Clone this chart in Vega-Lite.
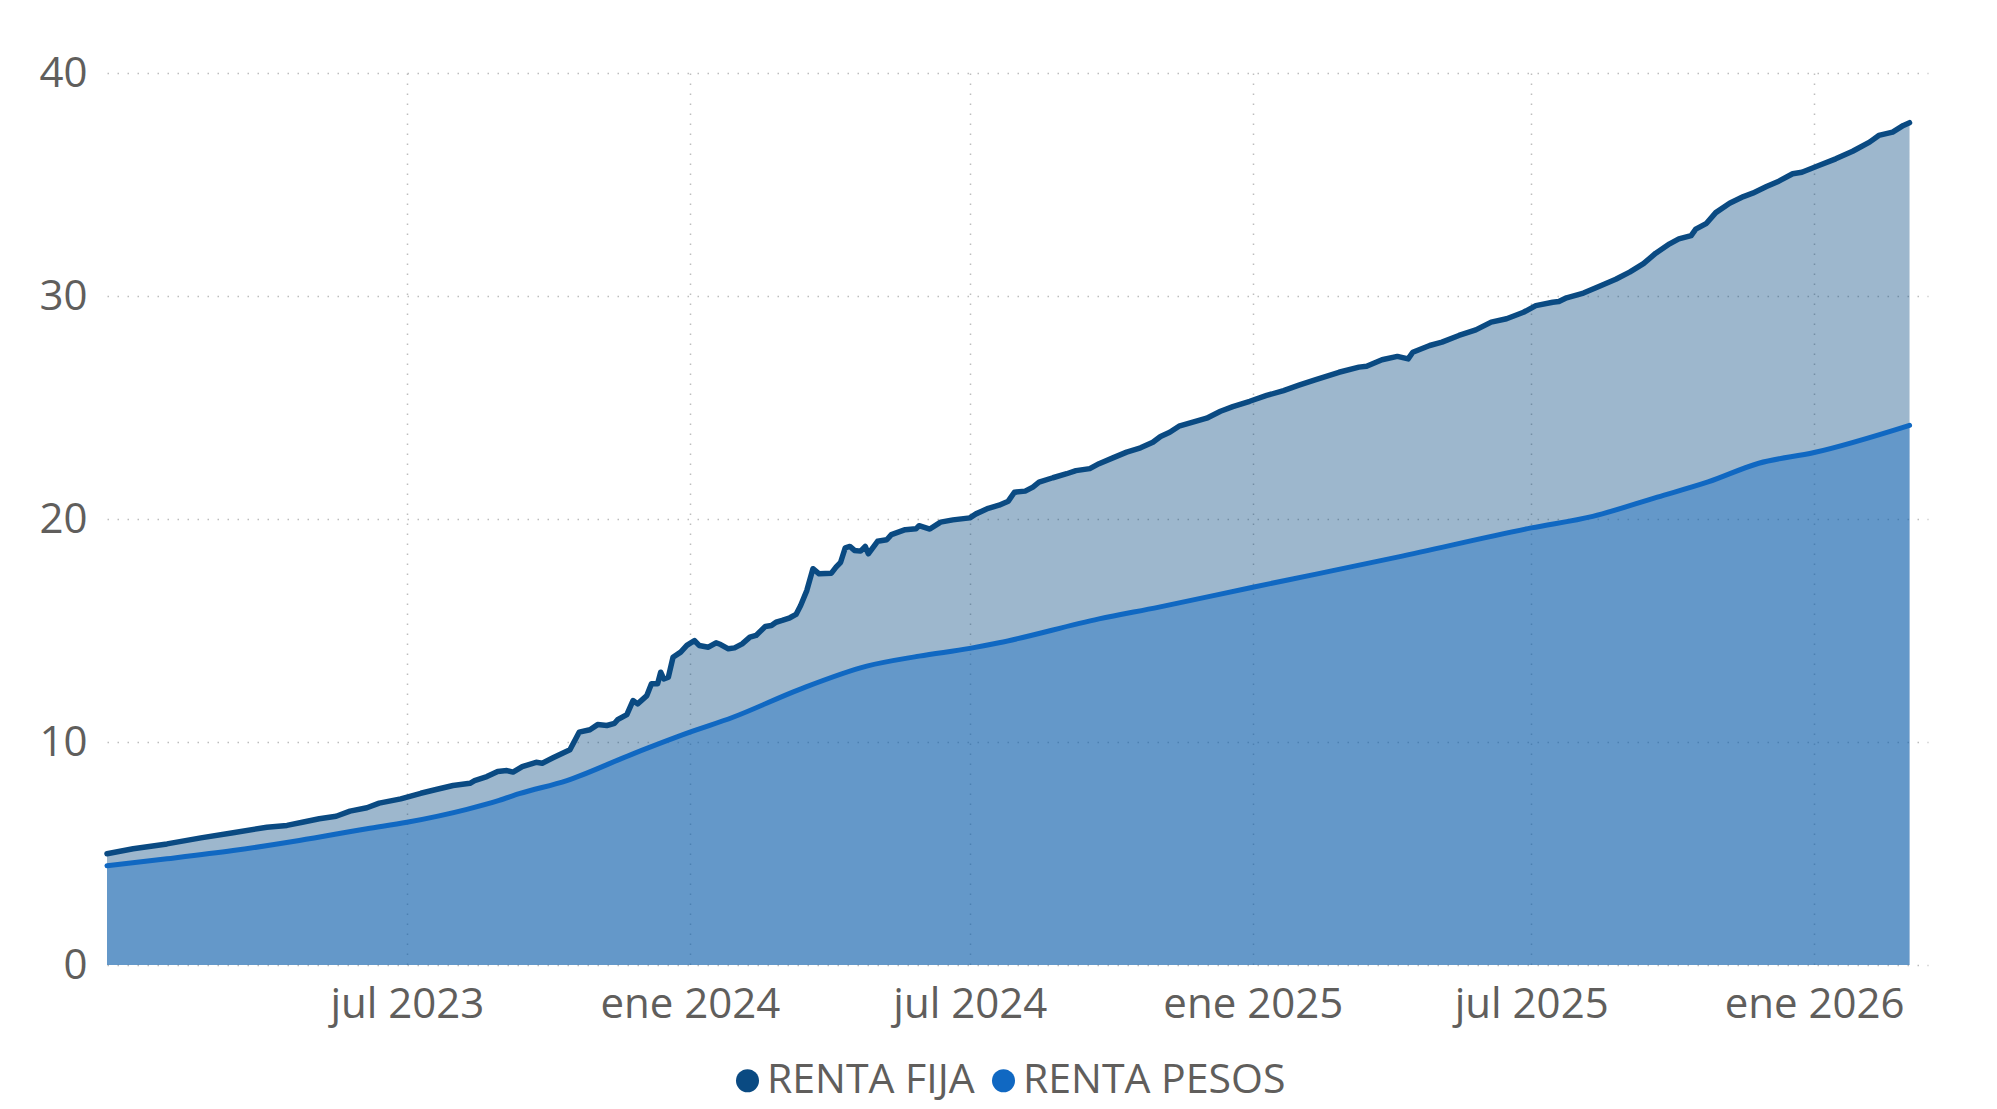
{
  "$schema": "https://vega.github.io/schema/vega-lite/v6.json",
  "width": 1821,
  "height": 892,
  "autosize": "none",
  "padding": {"left": 107, "top": 73, "right": 69, "bottom": 144},
  "background": "white",
  "config": {
    "view": {"stroke": null},
    "font": "Open Sans",
    "axis": {
      "labelFont": "Open Sans",
      "labelFontSize": 42,
      "labelColor": "#605E5C",
      "domain": false,
      "ticks": false,
      "tickSize": 0,
      "grid": true,
      "gridColor": "#BDBDBD",
      "gridWidth": 1.5,
      "gridDash": [1.5, 8.5],
      "title": null
    },
    "legend": {
      "labelFont": "Open Sans",
      "labelFontSize": 41,
      "labelColor": "#605E5C",
      "labelLimit": 1000,
      "padding": 0
    }
  },
  "data": {
    "values": [
      {"d": "2022-12-18", "s": "RENTA FIJA", "v": 4.99},
      {"d": "2023-01-04", "s": "RENTA FIJA", "v": 5.21},
      {"d": "2023-01-26", "s": "RENTA FIJA", "v": 5.43},
      {"d": "2023-02-17", "s": "RENTA FIJA", "v": 5.70},
      {"d": "2023-03-10", "s": "RENTA FIJA", "v": 5.93},
      {"d": "2023-04-01", "s": "RENTA FIJA", "v": 6.18},
      {"d": "2023-04-14", "s": "RENTA FIJA", "v": 6.26},
      {"d": "2023-04-24", "s": "RENTA FIJA", "v": 6.40},
      {"d": "2023-05-05", "s": "RENTA FIJA", "v": 6.56},
      {"d": "2023-05-16", "s": "RENTA FIJA", "v": 6.67},
      {"d": "2023-05-25", "s": "RENTA FIJA", "v": 6.90},
      {"d": "2023-06-05", "s": "RENTA FIJA", "v": 7.05},
      {"d": "2023-06-13", "s": "RENTA FIJA", "v": 7.26},
      {"d": "2023-06-27", "s": "RENTA FIJA", "v": 7.45},
      {"d": "2023-07-10", "s": "RENTA FIJA", "v": 7.70},
      {"d": "2023-07-20", "s": "RENTA FIJA", "v": 7.87},
      {"d": "2023-07-31", "s": "RENTA FIJA", "v": 8.05},
      {"d": "2023-08-11", "s": "RENTA FIJA", "v": 8.15},
      {"d": "2023-08-14", "s": "RENTA FIJA", "v": 8.27},
      {"d": "2023-08-22", "s": "RENTA FIJA", "v": 8.45},
      {"d": "2023-08-29", "s": "RENTA FIJA", "v": 8.68},
      {"d": "2023-09-04", "s": "RENTA FIJA", "v": 8.72},
      {"d": "2023-09-08", "s": "RENTA FIJA", "v": 8.65},
      {"d": "2023-09-14", "s": "RENTA FIJA", "v": 8.90},
      {"d": "2023-09-23", "s": "RENTA FIJA", "v": 9.09},
      {"d": "2023-09-27", "s": "RENTA FIJA", "v": 9.05},
      {"d": "2023-10-04", "s": "RENTA FIJA", "v": 9.29},
      {"d": "2023-10-15", "s": "RENTA FIJA", "v": 9.65},
      {"d": "2023-10-21", "s": "RENTA FIJA", "v": 10.44},
      {"d": "2023-10-28", "s": "RENTA FIJA", "v": 10.55},
      {"d": "2023-11-02", "s": "RENTA FIJA", "v": 10.78},
      {"d": "2023-11-08", "s": "RENTA FIJA", "v": 10.74},
      {"d": "2023-11-13", "s": "RENTA FIJA", "v": 10.84},
      {"d": "2023-11-15", "s": "RENTA FIJA", "v": 11.00},
      {"d": "2023-11-21", "s": "RENTA FIJA", "v": 11.23},
      {"d": "2023-11-25", "s": "RENTA FIJA", "v": 11.86},
      {"d": "2023-11-28", "s": "RENTA FIJA", "v": 11.71},
      {"d": "2023-12-04", "s": "RENTA FIJA", "v": 12.08},
      {"d": "2023-12-07", "s": "RENTA FIJA", "v": 12.61},
      {"d": "2023-12-11", "s": "RENTA FIJA", "v": 12.61},
      {"d": "2023-12-13", "s": "RENTA FIJA", "v": 13.13},
      {"d": "2023-12-15", "s": "RENTA FIJA", "v": 12.83},
      {"d": "2023-12-18", "s": "RENTA FIJA", "v": 12.91},
      {"d": "2023-12-21", "s": "RENTA FIJA", "v": 13.80},
      {"d": "2023-12-26", "s": "RENTA FIJA", "v": 14.03},
      {"d": "2023-12-30", "s": "RENTA FIJA", "v": 14.33},
      {"d": "2024-01-04", "s": "RENTA FIJA", "v": 14.55},
      {"d": "2024-01-07", "s": "RENTA FIJA", "v": 14.33},
      {"d": "2024-01-13", "s": "RENTA FIJA", "v": 14.25},
      {"d": "2024-01-18", "s": "RENTA FIJA", "v": 14.45},
      {"d": "2024-01-21", "s": "RENTA FIJA", "v": 14.37},
      {"d": "2024-01-26", "s": "RENTA FIJA", "v": 14.18},
      {"d": "2024-01-30", "s": "RENTA FIJA", "v": 14.22},
      {"d": "2024-02-04", "s": "RENTA FIJA", "v": 14.40},
      {"d": "2024-02-09", "s": "RENTA FIJA", "v": 14.70},
      {"d": "2024-02-13", "s": "RENTA FIJA", "v": 14.78},
      {"d": "2024-02-19", "s": "RENTA FIJA", "v": 15.18},
      {"d": "2024-02-23", "s": "RENTA FIJA", "v": 15.22},
      {"d": "2024-02-26", "s": "RENTA FIJA", "v": 15.37},
      {"d": "2024-03-01", "s": "RENTA FIJA", "v": 15.45},
      {"d": "2024-03-06", "s": "RENTA FIJA", "v": 15.57},
      {"d": "2024-03-10", "s": "RENTA FIJA", "v": 15.72},
      {"d": "2024-03-13", "s": "RENTA FIJA", "v": 16.12},
      {"d": "2024-03-17", "s": "RENTA FIJA", "v": 16.79},
      {"d": "2024-03-21", "s": "RENTA FIJA", "v": 17.77},
      {"d": "2024-03-25", "s": "RENTA FIJA", "v": 17.54},
      {"d": "2024-04-02", "s": "RENTA FIJA", "v": 17.57},
      {"d": "2024-04-05", "s": "RENTA FIJA", "v": 17.84},
      {"d": "2024-04-08", "s": "RENTA FIJA", "v": 18.06},
      {"d": "2024-04-11", "s": "RENTA FIJA", "v": 18.71},
      {"d": "2024-04-14", "s": "RENTA FIJA", "v": 18.77},
      {"d": "2024-04-17", "s": "RENTA FIJA", "v": 18.59},
      {"d": "2024-04-21", "s": "RENTA FIJA", "v": 18.56},
      {"d": "2024-04-24", "s": "RENTA FIJA", "v": 18.77},
      {"d": "2024-04-26", "s": "RENTA FIJA", "v": 18.44},
      {"d": "2024-05-02", "s": "RENTA FIJA", "v": 19.00},
      {"d": "2024-05-08", "s": "RENTA FIJA", "v": 19.07},
      {"d": "2024-05-11", "s": "RENTA FIJA", "v": 19.30},
      {"d": "2024-05-20", "s": "RENTA FIJA", "v": 19.52},
      {"d": "2024-05-27", "s": "RENTA FIJA", "v": 19.56},
      {"d": "2024-05-29", "s": "RENTA FIJA", "v": 19.70},
      {"d": "2024-06-05", "s": "RENTA FIJA", "v": 19.55},
      {"d": "2024-06-12", "s": "RENTA FIJA", "v": 19.86},
      {"d": "2024-06-20", "s": "RENTA FIJA", "v": 19.96},
      {"d": "2024-07-01", "s": "RENTA FIJA", "v": 20.05},
      {"d": "2024-07-05", "s": "RENTA FIJA", "v": 20.23},
      {"d": "2024-07-13", "s": "RENTA FIJA", "v": 20.48},
      {"d": "2024-07-20", "s": "RENTA FIJA", "v": 20.62},
      {"d": "2024-07-26", "s": "RENTA FIJA", "v": 20.80},
      {"d": "2024-07-30", "s": "RENTA FIJA", "v": 21.20},
      {"d": "2024-08-06", "s": "RENTA FIJA", "v": 21.25},
      {"d": "2024-08-11", "s": "RENTA FIJA", "v": 21.43},
      {"d": "2024-08-15", "s": "RENTA FIJA", "v": 21.65},
      {"d": "2024-08-24", "s": "RENTA FIJA", "v": 21.85},
      {"d": "2024-09-02", "s": "RENTA FIJA", "v": 22.03},
      {"d": "2024-09-08", "s": "RENTA FIJA", "v": 22.17},
      {"d": "2024-09-17", "s": "RENTA FIJA", "v": 22.26},
      {"d": "2024-09-23", "s": "RENTA FIJA", "v": 22.48},
      {"d": "2024-10-02", "s": "RENTA FIJA", "v": 22.74},
      {"d": "2024-10-11", "s": "RENTA FIJA", "v": 23.00},
      {"d": "2024-10-20", "s": "RENTA FIJA", "v": 23.19},
      {"d": "2024-10-28", "s": "RENTA FIJA", "v": 23.44},
      {"d": "2024-11-02", "s": "RENTA FIJA", "v": 23.70},
      {"d": "2024-11-08", "s": "RENTA FIJA", "v": 23.89},
      {"d": "2024-11-14", "s": "RENTA FIJA", "v": 24.16},
      {"d": "2024-11-23", "s": "RENTA FIJA", "v": 24.34},
      {"d": "2024-12-02", "s": "RENTA FIJA", "v": 24.52},
      {"d": "2024-12-11", "s": "RENTA FIJA", "v": 24.83},
      {"d": "2024-12-19", "s": "RENTA FIJA", "v": 25.04},
      {"d": "2024-12-30", "s": "RENTA FIJA", "v": 25.28},
      {"d": "2025-01-10", "s": "RENTA FIJA", "v": 25.54},
      {"d": "2025-01-21", "s": "RENTA FIJA", "v": 25.76},
      {"d": "2025-01-31", "s": "RENTA FIJA", "v": 26.00},
      {"d": "2025-02-11", "s": "RENTA FIJA", "v": 26.25},
      {"d": "2025-02-26", "s": "RENTA FIJA", "v": 26.58},
      {"d": "2025-03-11", "s": "RENTA FIJA", "v": 26.81},
      {"d": "2025-03-16", "s": "RENTA FIJA", "v": 26.85},
      {"d": "2025-03-26", "s": "RENTA FIJA", "v": 27.14},
      {"d": "2025-04-05", "s": "RENTA FIJA", "v": 27.29},
      {"d": "2025-04-12", "s": "RENTA FIJA", "v": 27.18},
      {"d": "2025-04-15", "s": "RENTA FIJA", "v": 27.48},
      {"d": "2025-04-26", "s": "RENTA FIJA", "v": 27.78},
      {"d": "2025-05-04", "s": "RENTA FIJA", "v": 27.93},
      {"d": "2025-05-15", "s": "RENTA FIJA", "v": 28.23},
      {"d": "2025-05-26", "s": "RENTA FIJA", "v": 28.48},
      {"d": "2025-06-05", "s": "RENTA FIJA", "v": 28.83},
      {"d": "2025-06-15", "s": "RENTA FIJA", "v": 28.98},
      {"d": "2025-06-26", "s": "RENTA FIJA", "v": 29.27},
      {"d": "2025-07-04", "s": "RENTA FIJA", "v": 29.57},
      {"d": "2025-07-15", "s": "RENTA FIJA", "v": 29.72},
      {"d": "2025-07-19", "s": "RENTA FIJA", "v": 29.75},
      {"d": "2025-07-24", "s": "RENTA FIJA", "v": 29.92},
      {"d": "2025-08-04", "s": "RENTA FIJA", "v": 30.13},
      {"d": "2025-08-14", "s": "RENTA FIJA", "v": 30.43},
      {"d": "2025-08-25", "s": "RENTA FIJA", "v": 30.75},
      {"d": "2025-09-03", "s": "RENTA FIJA", "v": 31.07},
      {"d": "2025-09-12", "s": "RENTA FIJA", "v": 31.45},
      {"d": "2025-09-20", "s": "RENTA FIJA", "v": 31.92},
      {"d": "2025-09-29", "s": "RENTA FIJA", "v": 32.34},
      {"d": "2025-10-05", "s": "RENTA FIJA", "v": 32.56},
      {"d": "2025-10-13", "s": "RENTA FIJA", "v": 32.71},
      {"d": "2025-10-16", "s": "RENTA FIJA", "v": 33.00},
      {"d": "2025-10-23", "s": "RENTA FIJA", "v": 33.26},
      {"d": "2025-10-29", "s": "RENTA FIJA", "v": 33.74},
      {"d": "2025-11-07", "s": "RENTA FIJA", "v": 34.16},
      {"d": "2025-11-16", "s": "RENTA FIJA", "v": 34.46},
      {"d": "2025-11-22", "s": "RENTA FIJA", "v": 34.61},
      {"d": "2025-12-01", "s": "RENTA FIJA", "v": 34.91},
      {"d": "2025-12-09", "s": "RENTA FIJA", "v": 35.15},
      {"d": "2025-12-18", "s": "RENTA FIJA", "v": 35.48},
      {"d": "2025-12-24", "s": "RENTA FIJA", "v": 35.55},
      {"d": "2026-01-04", "s": "RENTA FIJA", "v": 35.85},
      {"d": "2026-01-15", "s": "RENTA FIJA", "v": 36.15},
      {"d": "2026-01-26", "s": "RENTA FIJA", "v": 36.49},
      {"d": "2026-02-06", "s": "RENTA FIJA", "v": 36.90},
      {"d": "2026-02-12", "s": "RENTA FIJA", "v": 37.20},
      {"d": "2026-02-21", "s": "RENTA FIJA", "v": 37.35},
      {"d": "2026-02-28", "s": "RENTA FIJA", "v": 37.65},
      {"d": "2026-03-04", "s": "RENTA FIJA", "v": 37.77},
      {"d": "2022-12-18", "s": "RENTA PESOS", "v": 4.45},
      {"d": "2023-01-26", "s": "RENTA PESOS", "v": 4.76},
      {"d": "2023-03-10", "s": "RENTA PESOS", "v": 5.13},
      {"d": "2023-04-22", "s": "RENTA PESOS", "v": 5.58},
      {"d": "2023-06-05", "s": "RENTA PESOS", "v": 6.11},
      {"d": "2023-07-01", "s": "RENTA PESOS", "v": 6.40},
      {"d": "2023-08-09", "s": "RENTA PESOS", "v": 6.98},
      {"d": "2023-08-30", "s": "RENTA PESOS", "v": 7.38},
      {"d": "2023-09-12", "s": "RENTA PESOS", "v": 7.68},
      {"d": "2023-10-13", "s": "RENTA PESOS", "v": 8.27},
      {"d": "2023-11-25", "s": "RENTA PESOS", "v": 9.47},
      {"d": "2024-01-01", "s": "RENTA PESOS", "v": 10.44},
      {"d": "2024-01-29", "s": "RENTA PESOS", "v": 11.11},
      {"d": "2024-03-12", "s": "RENTA PESOS", "v": 12.35},
      {"d": "2024-04-25", "s": "RENTA PESOS", "v": 13.40},
      {"d": "2024-05-29", "s": "RENTA PESOS", "v": 13.85},
      {"d": "2024-07-01", "s": "RENTA PESOS", "v": 14.20},
      {"d": "2024-07-20", "s": "RENTA PESOS", "v": 14.45},
      {"d": "2024-09-23", "s": "RENTA PESOS", "v": 15.52},
      {"d": "2024-11-01", "s": "RENTA PESOS", "v": 16.05},
      {"d": "2025-01-01", "s": "RENTA PESOS", "v": 16.94},
      {"d": "2025-02-12", "s": "RENTA PESOS", "v": 17.54},
      {"d": "2025-04-05", "s": "RENTA PESOS", "v": 18.29},
      {"d": "2025-07-01", "s": "RENTA PESOS", "v": 19.60},
      {"d": "2025-08-10", "s": "RENTA PESOS", "v": 20.12},
      {"d": "2025-09-21", "s": "RENTA PESOS", "v": 20.98},
      {"d": "2025-10-24", "s": "RENTA PESOS", "v": 21.66},
      {"d": "2025-11-26", "s": "RENTA PESOS", "v": 22.50},
      {"d": "2026-01-01", "s": "RENTA PESOS", "v": 22.98},
      {"d": "2026-03-04", "s": "RENTA PESOS", "v": 24.20}
    ]
  },
  "encoding": {
    "x": {
      "field": "d",
      "type": "temporal",
      "scale": {
        "type": "utc",
        "domain": [
          {"year": 2022, "month": 12, "date": 18, "utc": true},
          {"year": 2026, "month": 3, "date": 16, "utc": true}
        ]
      },
      "axis": {
        "values": [
          {"year": 2023, "month": 7, "date": 1, "utc": true},
          {"year": 2024, "month": 1, "date": 1, "utc": true},
          {"year": 2024, "month": 7, "date": 1, "utc": true},
          {"year": 2025, "month": 1, "date": 1, "utc": true},
          {"year": 2025, "month": 7, "date": 1, "utc": true},
          {"year": 2026, "month": 1, "date": 1, "utc": true}
        ],
        "labelExpr": "(utcmonth(datum.value) == 0 ? 'ene ' : 'jul ') + utcyear(datum.value)",
        "labelBaseline": "alphabetic",
        "labelPadding": 52,
        "labelFlush": false,
        "labelOverlap": false
      }
    },
    "y": {
      "field": "v",
      "type": "quantitative",
      "stack": null,
      "scale": {"domain": [0, 40], "nice": false, "zero": true},
      "axis": {"values": [0, 10, 20, 30, 40], "labelPadding": 20}
    },
    "color": {
      "field": "s",
      "type": "nominal",
      "scale": {"domain": ["RENTA FIJA", "RENTA PESOS"], "range": ["#0A4A82", "#1068C2"]},
      "legend": {
        "title": null,
        "orient": "none",
        "direction": "horizontal",
        "legendX": 620,
        "legendY": 987,
        "symbolType": "circle",
        "symbolSize": 530,
        "symbolOpacity": 1,
        "symbolStrokeWidth": 0,
        "labelOffset": -1,
        "columnPadding": 8
      }
    }
  },
  "layer": [
    {
      "transform": [{"filter": "datum.s == 'RENTA FIJA'"}],
      "mark": {"type": "area", "fillOpacity": 0.4, "interpolate": "linear"}
    },
    {
      "transform": [{"filter": "datum.s == 'RENTA PESOS'"}],
      "mark": {"type": "area", "fillOpacity": 0.4, "interpolate": "monotone"}
    },
    {
      "transform": [{"filter": "datum.s == 'RENTA FIJA'"}],
      "mark": {"type": "line", "strokeWidth": 5.5, "strokeJoin": "round", "strokeCap": "round", "interpolate": "linear", "color": "#0A4A82"},
      "encoding": {"color": {"value": "#0A4A82"}}
    },
    {
      "transform": [{"filter": "datum.s == 'RENTA PESOS'"}],
      "mark": {"type": "line", "strokeWidth": 5, "strokeJoin": "round", "strokeCap": "round", "interpolate": "monotone", "color": "#1068C2"},
      "encoding": {"color": {"value": "#1068C2"}}
    }
  ]
}
